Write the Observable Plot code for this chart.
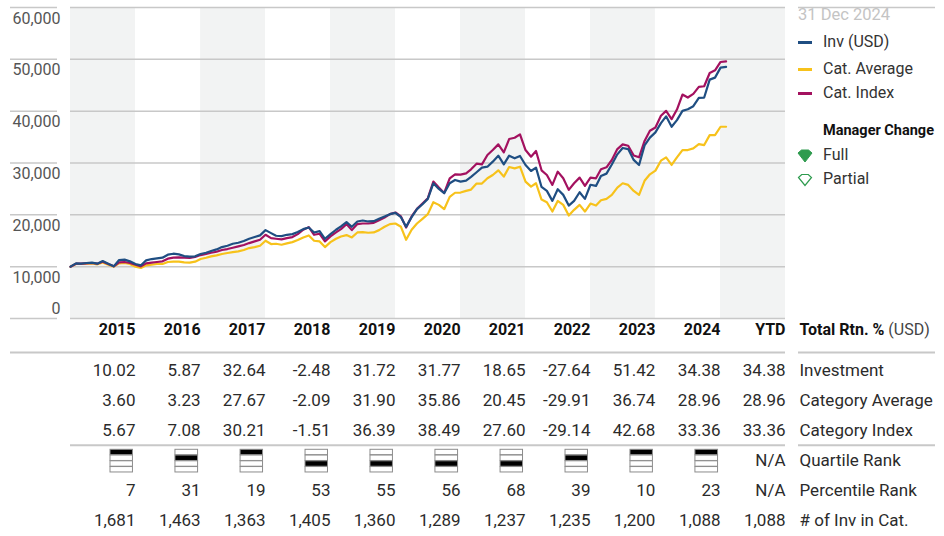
<!DOCTYPE html>
<html>
<head>
<meta charset="utf-8">
<script src="https://cdn.jsdelivr.net/npm/d3@7"></script>
<script src="https://cdn.jsdelivr.net/npm/@observablehq/plot@0.6"></script>
<style>
  body { margin: 0; background: #fff; }
  #wrap { position: relative; width: 944px; height: 536px; overflow: hidden; font-family: Roboto, sans-serif; }
  #wrap svg { display: block; }
  .lg { position: absolute; left: 0; height: 20px; line-height: 20px; white-space: nowrap; font-size: 16px; color: #333; }
  .sw { position: absolute; left: 0; width: 14px; height: 3px; }
  .gem { position: absolute; left: -1px; }
</style>
</head>
<body>
<div id="wrap">
  <div id="chart"></div>
  <div id="table"></div>
  <div id="legend" style="position:absolute;left:798px;top:0;width:146px;height:200px;">
    <div class="lg" style="top:5px;color:#c4c4c4;font-size:16.5px;">31 Dec 2024</div>
    <div class="sw" style="top:41px;background:#1F4E82;"></div>
    <div class="lg" style="left:25px;top:32px;">Inv (USD)</div>
    <div class="sw" style="top:68px;background:#F7C21B;"></div>
    <div class="lg" style="left:25px;top:59px;">Cat. Average</div>
    <div class="sw" style="top:92px;background:#A3115F;"></div>
    <div class="lg" style="left:25px;top:83px;">Cat. Index</div>
    <div class="lg" style="left:25px;top:121px;font-weight:bold;color:#111;font-size:14.5px;">Manager Change</div>
    <svg class="gem" style="top:149px;" width="16" height="14" viewBox="0 0 16 14"><polygon points="1,4 4.5,1 11.5,1 15,4 8,13" fill="#2E9B4E" stroke="#2E9B4E" stroke-width="1"/></svg>
    <div class="lg" style="left:25px;top:145px;">Full</div>
    <svg class="gem" style="top:173px;" width="16" height="14" viewBox="0 0 16 14"><polygon points="1.5,4.5 4.7,1.5 11.3,1.5 14.5,4.5 8,12.5" fill="#fff" stroke="#2E9B4E" stroke-width="1.2"/></svg>
    <div class="lg" style="left:25px;top:169px;">Partial</div>
  </div>
</div>
<script>
// ---------------- DATA ----------------
const years = [2015, 2016, 2017, 2018, 2019, 2020, 2021, 2022, 2023, 2024];
const columns = ["2015", "2016", "2017", "2018", "2019", "2020", "2021", "2022", "2023", "2024", "YTD"];
const shadedColumns = ["2015", "2017", "2019", "2021", "2023", "YTD"];
const yTicks = [0, 10000, 20000, 30000, 40000, 50000, 60000];

const invReturns      = [10.02, 5.87, 32.64, -2.48, 31.72, 31.77, 18.65, -27.64, 51.42, 34.38];
const catAvgReturns   = [3.60, 3.23, 27.67, -2.09, 31.90, 35.86, 20.45, -29.91, 36.74, 28.96];
const catIndexReturns = [5.67, 7.08, 30.21, -1.51, 36.39, 38.49, 27.60, -29.14, 42.68, 33.36];
const ytdReturns = [34.38, 28.96, 33.36];
const quartileRanks = [1, 2, 1, 3, 3, 3, 3, 2, 1, 1];
const percentileRanks = [7, 31, 19, 53, 55, 56, 68, 39, 10, 23];
const invInCategory = [1681, 1463, 1363, 1405, 1360, 1289, 1237, 1235, 1200, 1088];
const ytdInvInCategory = 1088;
const rowLabels = ["Investment", "Category Average", "Category Index", "Quartile Rank", "Percentile Rank", "# of Inv in Cat."];

// Growth of 10,000, one value per month starting Jan 2015
const invGrowth = [
  10000, 10640, 10580, 10710, 10770, 10580, 11090, 10580, 10060, 11280, 11350, 11030,
  10510, 10260, 11220, 11470, 11600, 11730, 12310, 12500, 12370, 12050, 11920, 11990,
  12440, 12690, 13010, 13330, 13780, 14040, 14420, 14620, 14940, 15380, 15710, 16030,
  17050, 16470, 15960, 15900, 16150, 16280, 16670, 17240, 17560, 16600, 16860, 15380,
  16280, 17120, 17760, 18590, 17690, 18720, 18910, 18720, 18780, 19230, 19680, 20130,
  20380, 19550, 17690, 19550, 21090, 22050, 23080, 26090, 25000, 24170, 26090, 26730,
  26400, 26600, 27310, 28210, 29100, 29290, 30260, 31410, 29740, 31410, 30900, 31350,
  29620, 28460, 29100, 25380, 24620, 22690, 24940, 23850, 21790, 22690, 24360, 23080,
  25800, 25580, 27500, 27950, 29700, 31670, 32900, 32690, 30600, 29620, 33400, 34900,
  35900, 37700, 39000, 36990, 38270, 40060, 40380, 40960, 42560, 42630, 46090, 46470,
  48400, 48530
];
const catAvgGrowth = [
  10000, 10510, 10510, 10580, 10640, 10450, 10830, 10380, 10000, 10640, 10710, 10510,
  10000, 9740, 10260, 10380, 10510, 10510, 10900, 10960, 10960, 10830, 10770, 10960,
  11470, 11730, 11990, 12180, 12440, 12630, 12820, 12950, 13210, 13590, 13780, 14040,
  15000, 14360, 14420, 14230, 14490, 14740, 15130, 15640, 16030, 15000, 14870, 13780,
  14740, 15380, 15830, 16090, 15640, 16600, 16670, 16540, 16600, 17050, 17690, 18210,
  18330, 17690, 15190, 17120, 18330, 19230, 20130, 22440, 21920, 21090, 23460, 24260,
  24300, 24620, 24870, 26030, 26030, 27050, 27690, 28590, 27370, 29230, 28970, 29290,
  26410, 25450, 26090, 22950, 22440, 20640, 22690, 21920, 19870, 20960, 21920, 20640,
  22180, 21790, 22820, 23080, 23850, 25260, 26090, 25770, 24620, 23850, 26570, 27820,
  28530, 30450, 31090, 29620, 31090, 32500, 32500, 32820, 33650, 33460, 35380, 35380,
  36990, 36990
];
const catIndexGrowth = [
  10000, 10580, 10580, 10640, 10710, 10580, 10960, 10510, 10060, 10830, 10900, 10710,
  10380, 10060, 10640, 10770, 10900, 11030, 11540, 11730, 11790, 11730, 11670, 11860,
  12240, 12440, 12690, 12880, 13210, 13400, 13650, 13910, 14170, 14550, 14870, 15190,
  16150, 15510, 15380, 15260, 15510, 15710, 16280, 17120, 17630, 16150, 16350, 14870,
  15830, 16600, 17240, 18210, 17050, 18210, 18330, 18330, 18460, 18970, 19490, 20130,
  20450, 19680, 17560, 19680, 21150, 22180, 23210, 26410, 25260, 24230, 27050, 27820,
  27750, 28010, 28780, 29870, 29740, 31540, 32500, 33590, 32050, 34620, 34870, 35510,
  32500, 31220, 32310, 28590, 27690, 25770, 28330, 27050, 24810, 26090, 27180, 25580,
  27180, 27050, 28780, 29170, 30580, 32690, 33590, 33330, 31450, 31100, 34260, 36220,
  36860, 39100, 40060, 38460, 40320, 43210, 42630, 43330, 44680, 44810, 47370, 47880,
  49490, 49620
];

// ---------------- STYLE ----------------
const FONT = "Roboto, sans-serif";
const NAVY = "#1F4E82", GOLD = "#F7C21B", MAGENTA = "#A3115F";
const GRID = "#c8c8c8", BAND = "#f2f3f3";

const colStart = c => new Date(Date.UTC(c === "YTD" ? 2025 : +c, 0, 1));
const colEnd = c => new Date(Date.UTC(c === "YTD" ? 2026 : +c + 1, 0, 1));
const xDomain = [colStart("2015"), colEnd("YTD")];
const monthDate = i => new Date(Date.UTC(2015, i, 1));
const series = arr => arr.map((v, i) => ({date: monthDate(i), value: v}));

// width of the bold header label, to place "(USD)" right after it
const ctx = document.createElement("canvas").getContext("2d");
ctx.font = "bold 16px Roboto";
const totalW = ctx.measureText("Total Rtn. %").width;

const chart = Plot.plot({
  width: 944, height: 354,
  marginLeft: 70, marginRight: 159, marginTop: 7, marginBottom: 36,
  x: {type: "utc", domain: xDomain, axis: null},
  y: {domain: [0, 60000], axis: null},
  style: {fontFamily: FONT, fontSize: "16px", background: "transparent", overflow: "visible"},
  marks: [
    Plot.rect(shadedColumns, {x1: colStart, x2: colEnd, fill: BAND}),
    Plot.ruleY(yTicks, {stroke: GRID, strokeWidth: 1.5}),
    Plot.ruleY(yTicks, {stroke: GRID, strokeWidth: 1.5, insetLeft: -60, insetRight: 728}),
    Plot.ruleY([60000], {stroke: GRID, strokeWidth: 1.5, insetLeft: 728, insetRight: -150}),
    Plot.line(series(catAvgGrowth), {x: "date", y: "value", stroke: GOLD, strokeWidth: 2.2}),
    Plot.line(series(catIndexGrowth), {x: "date", y: "value", stroke: MAGENTA, strokeWidth: 2.2}),
    Plot.line(series(invGrowth), {x: "date", y: "value", stroke: NAVY, strokeWidth: 2.2}),
    Plot.text(yTicks.filter(d => d > 0), {y: d => d, text: d => d3.format(",")(d), frameAnchor: "left",
      textAnchor: "end", dx: -10, dy: 11, fill: "#555"}),
    Plot.text(yTicks.filter(d => d === 0), {y: d => d, text: d => d3.format(",")(d), frameAnchor: "left",
      textAnchor: "end", dx: -10, dy: -10, fill: "#555"}),
    Plot.text(columns, {x: colEnd, text: d => d, frameAnchor: "bottom", dy: 16, textAnchor: "end",
      fontWeight: "bold", fill: "#111"}),
    Plot.text(["Total Rtn. %"], {x: () => colEnd("YTD"), text: d => d, frameAnchor: "bottom", dy: 16,
      dx: 14, textAnchor: "start", fontWeight: "bold", fill: "#111"}),
    Plot.text(["(USD)"], {x: () => colEnd("YTD"), text: d => d, frameAnchor: "bottom", dy: 16,
      dx: 14 + totalW + 4, textAnchor: "start", fill: "#444"}),
    Plot.ruleY([0], {stroke: GRID, strokeWidth: 2, dy: 34, insetLeft: -60}),
    Plot.ruleY([0], {stroke: GRID, strokeWidth: 2, dy: 34, insetLeft: 728, insetRight: -150})
  ]
});
document.getElementById("chart").append(chart);

// ---------------- TABLE ----------------
const fmt2 = d => d.toFixed(2), fmtInt = d3.format(",");
const returnRows = [invReturns, catAvgReturns, catIndexReturns];
const cells = [];
returnRows.forEach((vals, r) => {
  years.forEach((y, i) => cells.push({col: String(y), row: rowLabels[r], text: fmt2(vals[i])}));
  cells.push({col: "YTD", row: rowLabels[r], text: fmt2(ytdReturns[r])});
});
cells.push({col: "YTD", row: rowLabels[3], text: "N/A"});
years.forEach((y, i) => cells.push({col: String(y), row: rowLabels[4], text: String(percentileRanks[i])}));
cells.push({col: "YTD", row: rowLabels[4], text: "N/A"});
years.forEach((y, i) => cells.push({col: String(y), row: rowLabels[5], text: fmtInt(invInCategory[i])}));
cells.push({col: "YTD", row: rowLabels[5], text: fmtInt(ytdInvInCategory)});

const TABLE_H = 182;
const BW = TABLE_H / rowLabels.length;
const qTop = 4.3, qH = 5.75;
const quartileCells = years.map((y, i) => ({col: String(y), q: quartileRanks[i]}));

const table = Plot.plot({
  width: 944, height: TABLE_H,
  marginLeft: 70, marginRight: 159, marginTop: 0, marginBottom: 0,
  x: {type: "utc", domain: xDomain, axis: null},
  y: {type: "band", domain: rowLabels, padding: 0, axis: null},
  style: {fontFamily: FONT, fontSize: "17px", background: "transparent", overflow: "visible"},
  marks: [
    Plot.ruleY([rowLabels[3]], {stroke: GRID, strokeWidth: 2, dy: -BW / 2}),
    Plot.ruleY([rowLabels[3]], {stroke: GRID, strokeWidth: 2, dy: -BW / 2, insetLeft: 728, insetRight: -150}),
    ...[0, 1, 2, 3].map(q => Plot.barX(quartileCells, {
      x1: d => colStart(d.col), x2: d => colEnd(d.col), y: () => rowLabels[3],
      insetLeft: 40, insetRight: 2.5,
      insetTop: qTop + qH * q, insetBottom: BW - qTop - qH * (q + 1),
      fill: d => d.q === q + 1 ? "#000" : "#fff", stroke: "#8c8c8c", strokeWidth: 1
    })),
    Plot.text(cells, {x: d => colEnd(d.col), y: "row", text: "text", textAnchor: "end", fill: "#2b2b2b"}),
    Plot.text(rowLabels, {x: () => colEnd("YTD"), y: d => d, text: d => d, dx: 14, textAnchor: "start", fill: "#2b2b2b"})
  ]
});
document.getElementById("table").append(table);
</script>
</body>
</html>
